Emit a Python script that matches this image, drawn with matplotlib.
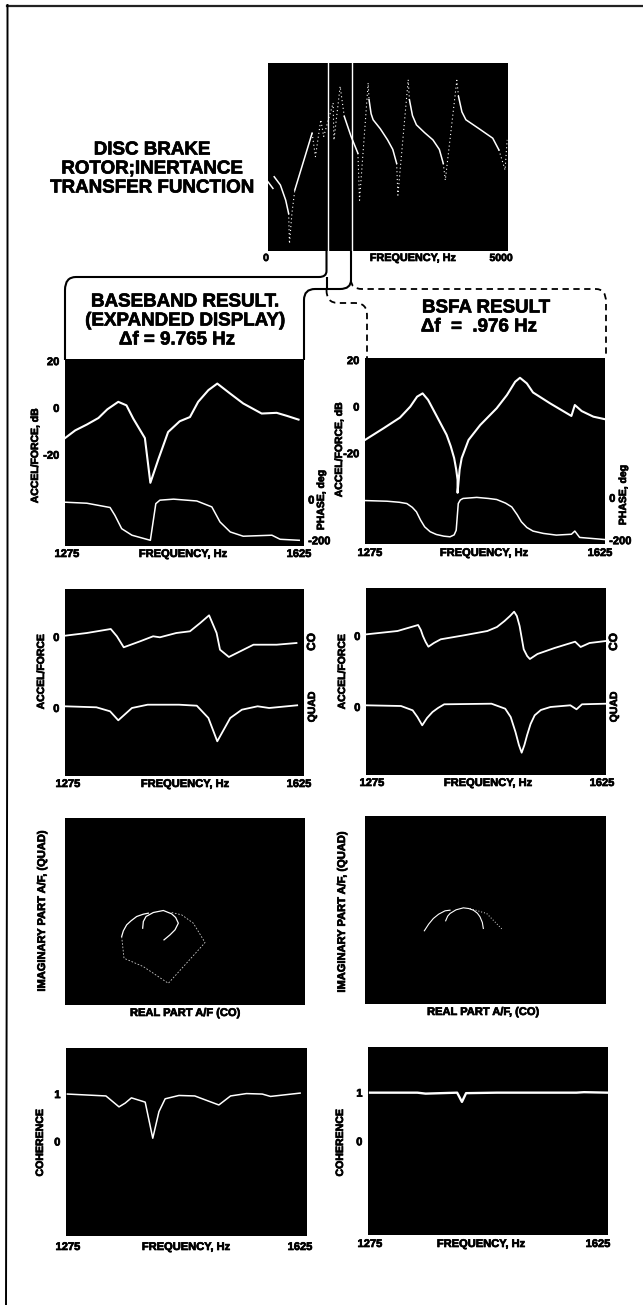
import matplotlib
matplotlib.use("Agg")
import matplotlib.pyplot as plt
import matplotlib.patheffects as pe
from matplotlib.path import Path
from matplotlib.patches import PathPatch

plt.rcParams['font.family'] = ['Liberation Sans', 'DejaVu Sans']
plt.rcParams['font.weight'] = 'bold'

# overview transfer function, solid runs and dotted (steep) runs
top_solid = [
    ([0, 103], [36.8, 33.3]),
    ([129, 258, 369, 430], [39.5, 35.1, 27, 19.9]),
    ([558, 919], [32.4, 62.7]),
    ([1589, 1730, 1873], [71.6, 61, 52]),
    ([2105, 2148, 2190, 2340, 2491, 2600, 2680], [80.5, 73, 69.8, 65, 59.1, 54, 46.6]),
    ([2946, 3010, 3092, 3260, 3436, 3570, 3651], [80.5, 72, 67.1, 63, 59.1, 54, 46.6]),
    ([3969, 4040, 4123, 4400, 4682, 4810], [82.2, 74, 69.8, 65, 60, 53.8]),
]
top_dotted = [
    ([430, 447, 498, 558], [19.9, 3.9, 19.9, 32.4]),
    ([919, 988, 1100, 1160, 1357, 1374, 1503, 1589], [62.7, 50.2, 69.8, 60.9, 78.7, 59, 87.6, 71.6]),
    ([1873, 1907, 2087, 2105], [52, 27, 89.4, 80.5]),
    ([2680, 2706, 2921, 2946], [46.6, 29.7, 91.1, 80.5]),
    ([3651, 3694, 3934, 3969], [46.6, 37.7, 90.8, 82.2]),
    ([4810, 4939, 4982], [53.8, 43.1, 59.1]),
]
band_lines = [1250, 1740]

# row 1: magnitude and phase
base_mag_f = [1275, 1290, 1307, 1324, 1337, 1353, 1365, 1375, 1392, 1400, 1412, 1426, 1443, 1458, 1470, 1485, 1498, 1517, 1536, 1563, 1585, 1600, 1617]
base_mag = [-12.9, -9.6, -7.1, -4.3, -0.6, 2.6, 1.1, -4.6, -12.9, -32, -21.7, -10.3, -5.7, -3.9, 2.6, 7.6, 10.4, 6.1, 1.9, -2.4, -2.1, -3.4, -5]
base_ph_f = [1275, 1307, 1341, 1348, 1358, 1373, 1400, 1408, 1414, 1434, 1468, 1490, 1502, 1517, 1536, 1578, 1590, 1618]
base_ph = [-13, -18, -39, -77, -143, -175, -200, -20, -3, 2, -7, -36, -110, -159, -180, -175, -195, -200]

bsfa_mag_f = [1275, 1302, 1326, 1341, 1351, 1359, 1367, 1380, 1394, 1400, 1405, 1408, 1410, 1410, 1413, 1416, 1426, 1443, 1467, 1482, 1494, 1501, 1511, 1520, 1545, 1576, 1581, 1591, 1608, 1625]
bsfa_mag = [-14.3, -9.3, -4.7, 0, 4.3, 5.7, 2.9, -4.3, -12.1, -17, -22.1, -27, -31.4, -37, -27, -22.1, -14.3, -7.9, -0.7, 5, 10.7, 12.4, 10, 6.1, 1.4, -4, 0.7, -1.9, -4.3, -5.4]
bsfa_ph_f = [1275, 1307, 1325, 1336, 1344, 1350, 1356, 1362, 1370, 1379, 1390, 1399, 1405, 1408, 1411, 1414, 1418, 1438, 1455, 1467, 1480, 1489, 1497, 1503, 1511, 1520, 1535, 1554, 1576, 1581, 1588, 1625]
bsfa_ph = [-13, -16, -21, -27, -45, -66, -105, -137, -160, -173, -181, -184, -175, -153, -27, -10, -3, 2, -3, -8, -25, -43, -80, -113, -140, -157, -168, -176, -172, -157, -187, -197]

# row 2: co and quad
base_co_f = [1275, 1307, 1342, 1351, 1361, 1385, 1404, 1414, 1438, 1458, 1473, 1486, 1497, 1502, 1515, 1551, 1585, 1614]
base_co = [1.3, 4, 8, 0.7, -10.3, -4.3, 0.7, -0.3, 4, 5.7, 14, 21.7, 4, -12.7, -20, -7.7, -7.7, -6]
base_quad_f = [1275, 1321, 1341, 1353, 1373, 1396, 1442, 1468, 1485, 1498, 1517, 1534, 1557, 1574, 1615]
base_quad = [1.7, 0.7, -3.3, -12.3, 0, 3.3, 3.3, 2.3, -10, -33.3, -10, -1.7, 1.7, 0, 2.7]

bsfa_co_f = [1276, 1321, 1351, 1355, 1358, 1362, 1366, 1374, 1384, 1418, 1452, 1466, 1477, 1485, 1491, 1495, 1499, 1505, 1510, 1514, 1525, 1550, 1580, 1588, 1601, 1625]
bsfa_co = [1.7, 5, 11, 6, 0, -6, -10.7, -7, -3.3, 0.7, 5, 9, 15, 20, 24.3, 20, 10, -13.3, -20, -23, -18, -12, -5.7, -11, -7, -5]
bsfa_quad_f = [1275, 1326, 1343, 1350, 1357, 1364, 1372, 1380, 1389, 1458, 1478, 1486, 1493, 1498, 1502, 1506, 1510, 1515, 1521, 1530, 1544, 1573, 1582, 1590, 1625]
bsfa_quad = [1.7, 1, -3.3, -10, -18.3, -11, -5, -1, 2.7, 3.3, -1.7, -10, -25, -38, -45.7, -38, -28, -17, -8.3, -3, 0, 1.7, -2.3, 2.7, 3.3]

# row 3: real / imaginary
base_arc1_re = [-63, -45, -30, -20, -28, -40, -65, -95, -117, -125, -127]
base_arc1_im = [-85, -70, -55, -35, -18, -7, 3, -3, -15, -30, -50]
base_arc2_re = [-110, -125, -145, -162, -175, -185, -190]
base_arc2_im = [-5, -8, -15, -28, -40, -58, -75]
base_dim_re = [-190, -183, -125, -50, 45, 60, 25, -10, -40]
base_dim_im = [-75, -140, -165, -215, -110, -93, -35, -10, -3]

bsfa_arc1_re = [-183, -170, -156, -140, -121, -106]
bsfa_arc1_im = [-62, -42, -25, -12, -2, 0]
bsfa_arc2_re = [-119, -113, -106, -88, -66, -50, -36, -24, -16, -9, -6]
bsfa_arc2_im = [-32, -18, -10, 1, 7, 5, 0, -9, -20, -37, -55]
bsfa_dim_re = [-46, 4, 51]
bsfa_dim_im = [5, -10, -58]

# row 4: coherence
base_coh_f = [1277, 1333, 1352, 1361, 1370, 1390, 1401, 1410, 1419, 1439, 1462, 1497, 1514, 1537, 1560, 1572, 1615]
base_coh = [1, 0.96, 0.73, 0.81, 0.92, 0.83, 0.07, 0.63, 0.9, 0.97, 0.96, 0.77, 0.96, 1.01, 1, 0.95, 1.02]
bsfa_coh_f = [1278, 1347, 1359, 1405, 1412, 1418, 1463, 1579, 1590, 1624]
bsfa_coh = [1, 1, 0.98, 1, 0.81, 0.99, 1, 1, 1.01, 1]

W, H = 643, 1305
fig = plt.figure(figsize=(W / 100, H / 100), dpi=100, facecolor='white')
heavy = [pe.withStroke(linewidth=0.5, foreground='black')]


def panel(x0, y0, x1, y1):
    ax = fig.add_axes([x0 / W, 1 - y1 / H, (x1 - x0) / W, (y1 - y0) / H], facecolor='black')
    ax.set_xticks([])
    ax.set_yticks([])
    for s in ax.spines.values():
        s.set_visible(False)
    return ax


def ylabels(ax, ticks, labels):
    ax.set_yticks(ticks, labels, fontsize=8, path_effects=heavy)
    ax.tick_params(axis='y', length=0, pad=4)


# everything outside the panels goes on this one, in picture pixels
ov = fig.add_axes([0, 0, 1, 1], zorder=5)
ov.set_xlim(0, W)
ov.set_ylim(H, 0)
ov.axis('off')
ov.patch.set_alpha(0)


def txt(x, y, s, size=8, rot=0):
    ov.text(x, y, s, fontsize=size, rotation=rot, ha='center', va='center', color='black', path_effects=heavy)


def freq_labels(x_a, x_b, x_c, y):
    txt(x_a, y, '1275')
    txt(x_b, y, 'FREQUENCY, Hz')
    txt(x_c, y, '1625')


# frame
ov.plot([7, W], [5.5, 5.5], color='#222222', lw=1.6)
ov.plot([7.5, 7.5, 6], [5, 600, 1305], color='black', lw=1.4)

# overview
ax = panel(268, 63, 508, 251)
for f, v in top_solid:
    ax.plot(f, v, color='white', lw=1.1)
for f, v in top_dotted:
    ax.plot(f, v, color='white', lw=0.8, ls=(0, (1, 2.5)))
for f in band_lines:
    ax.axvline(f, color='white', lw=1)
ax.set_xlim(0, 5000)
ax.set_ylim(0, 100)
txt(266, 258, '0', 7.5)
txt(413, 258, 'FREQUENCY, Hz', 7.8)
txt(501, 258, '5000', 7.5)
txt(152, 150, 'DISC BRAKE', 13.5)
txt(152, 169, 'ROTOR;INERTANCE', 13.5)
txt(152, 188, 'TRANSFER FUNCTION', 13.5)

# headings
txt(185, 302, 'BASEBAND RESULT.', 13.5)
txt(185, 321, '(EXPANDED DISPLAY)', 13.5)
txt(177, 340, '\u0394f = 9.765 Hz', 13.5)
txt(486, 308, 'BSFA RESULT', 13.5)
txt(479, 327, '\u0394f  =  .976 Hz', 13.5)


def bracket(pts, codes, **kw):
    ov.add_patch(PathPatch(Path(pts, codes), fill=False, edgecolor='black', **kw))


M, L, C = Path.MOVETO, Path.LINETO, Path.CURVE3
bracket([(326.5, 251), (326.5, 271), (326.5, 277), (319, 277), (76, 277), (65, 277), (65, 290), (65, 360)],
        [M, L, C, C, L, C, C, L], lw=1.5)
bracket([(351, 251), (351, 280), (351, 289), (340, 289), (315, 289), (304, 289), (304, 300), (304, 360)],
        [M, L, C, C, L, C, C, L], lw=1.5)
bracket([(326.5, 277), (326.5, 290)], [M, L], lw=1.5)
bracket([(326.5, 290), (326.5, 303), (338, 303), (355, 303), (367, 303), (367, 315), (367, 358)],
        [M, C, C, L, C, C, L], lw=1.3, ls=(0, (3.5, 2.5)))
bracket([(351, 280), (351, 289), (362, 289), (596, 289), (606, 289), (606, 302), (606, 358)],
        [M, C, C, L, C, C, L], lw=1.3, ls=(0, (3.5, 2.5)))

# row 1
for (x0, y0, x1, y1, mf, m, pf, p, ph_lim, left_x, left_y, ph_x, ph_y, lab_x, lab_y) in [
    (65, 359, 304, 546, base_mag_f, base_mag, base_ph_f, base_ph, (-228, 690), 35, 456, 321, 500, (67, 183, 299), 554),
    (365, 358, 605, 544, bsfa_mag_f, bsfa_mag, bsfa_ph_f, bsfa_ph, (-218, 660), 339, 450, 623, 495, (370, 484, 600), 553),
]:
    ax = panel(x0, y0, x1, y1)
    ax.plot(mf, m, color='white', lw=1.5)
    ax.set_xlim(1275, 1625)
    ax.set_ylim(-59, 20.9)
    ylabels(ax, [20, 0, -20], ['20', '0', '-20'])
    ax2 = ax.twinx()
    for s in ax2.spines.values():
        s.set_visible(False)
    ax2.plot(pf, p, color='white', lw=1.1)
    ax2.set_ylim(*ph_lim)
    ax2.set_xlim(1275, 1625)
    ax2.set_yticks([0, -200], ['0', '-200'], fontsize=8, path_effects=heavy)
    ax2.tick_params(axis='y', length=0, pad=3)
    txt(left_x, left_y, 'ACCEL/FORCE, dB', 7.5, 90)
    txt(ph_x, ph_y, 'PHASE, deg', 7.5, 90)
    freq_labels(lab_x[0], lab_x[1], lab_x[2], lab_y)

# row 2, co plotted above quad with its own zero
co_zero = 71
for (x0, y0, x1, y1, cf, c, qf, q, lab_x, lab_y) in [
    (65, 589, 304, 776, base_co_f, base_co, base_quad_f, base_quad, (68, 185, 299), 784),
    (366, 588, 606, 775, bsfa_co_f, bsfa_co, bsfa_quad_f, bsfa_quad, (372, 488, 602), 783),
]:
    ax = panel(x0, y0, x1, y1)
    ax.plot(cf, [v + co_zero for v in c], color='white', lw=1.3)
    ax.plot(qf, q, color='white', lw=1.3)
    ax.set_xlim(1275, 1625)
    ax.set_ylim(-68, 119)
    ylabels(ax, [co_zero, 0], ['0', '0'])
    txt(x0 - 24, 672, 'ACCEL/FORCE', 7.5, 90)
    txt(x1 + 8, 642, 'CO', 8.5, 90)
    txt(x1 + 8, 707, 'QUAD', 7.5, 90)
    freq_labels(lab_x[0], lab_x[1], lab_x[2], lab_y)

# row 3
ax = panel(65, 818, 305, 1005)
ax.plot(base_arc1_re, base_arc1_im, color='white', lw=0.9)
ax.plot(base_arc2_re, base_arc2_im, color='white', lw=0.9)
ax.plot(base_dim_re, base_dim_im, color='#cccccc', lw=0.6, ls=(0, (2, 2)))
ax.set_xlim(-360, 360)
ax.set_ylim(-280, 280)
txt(42, 911, 'IMAGINARY PART A/F, (QUAD)', 8, 90)
txt(185, 1013, 'REAL PART A/F (CO)', 8)

ax = panel(365, 816, 606, 1004)
ax.plot(bsfa_arc1_re, bsfa_arc1_im, color='white', lw=0.8)
ax.plot(bsfa_arc2_re, bsfa_arc2_im, color='white', lw=0.8)
ax.plot(bsfa_dim_re, bsfa_dim_im, color='#dddddd', lw=0.7, ls=(0, (1, 2)))
ax.set_xlim(-361, 362)
ax.set_ylim(-282, 283)
txt(342, 912, 'IMAGINARY PART A/F, (QUAD)', 8, 90)
txt(483, 1012, 'REAL PART A/F, (CO)', 8)

# row 4
for (x0, y0, x1, y1, cf, c, lim, lw, lab_x, lab_y, coh_x) in [
    (66, 1048, 307, 1236, base_coh_f, base_coh, (-1.99, 1.97), 1.1, (68, 186, 300), 1247, 40),
    (368, 1047, 608, 1235, bsfa_coh_f, bsfa_coh, (-1.93, 1.94), 1.7, (370, 481, 598), 1244, 340),
]:
    ax = panel(x0, y0, x1, y1)
    ax.plot(cf, c, color='white', lw=lw)
    ax.set_xlim(1275, 1625)
    ax.set_ylim(*lim)
    ylabels(ax, [1, 0], ['1', '0'])
    txt(coh_x, 1143, 'COHERENCE', 7.6, 90)
    freq_labels(lab_x[0], lab_x[1], lab_x[2], lab_y)

fig.savefig('out.png', dpi=100)
